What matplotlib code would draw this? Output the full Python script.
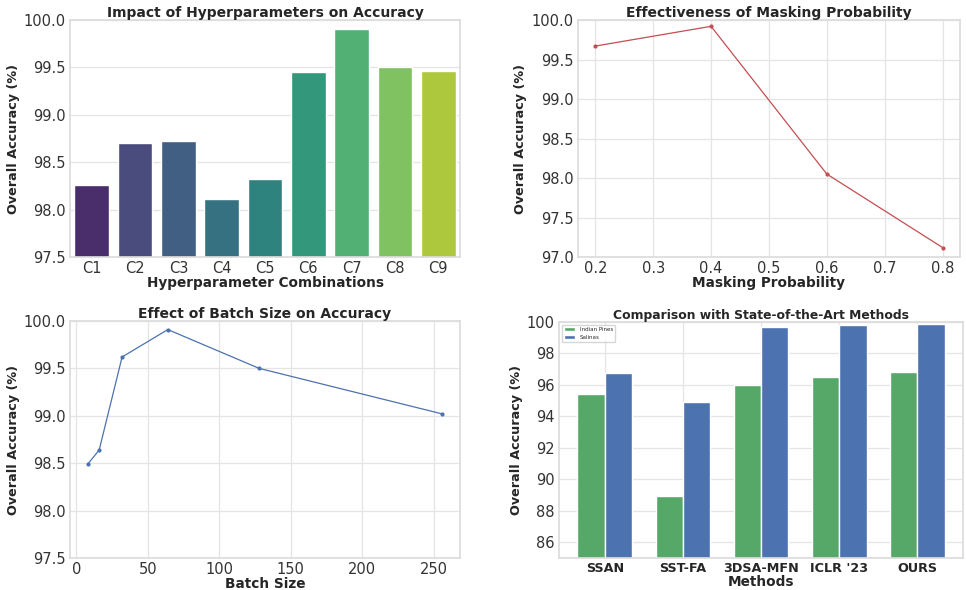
import matplotlib
matplotlib.use("Agg")
import matplotlib.pyplot as plt
import seaborn as sns
import numpy as np

# hyperparameter combinations
combos = ["C1", "C2", "C3", "C4", "C5", "C6", "C7", "C8", "C9"]
combo_acc = [98.26, 98.70, 98.72, 98.11, 98.32, 99.45, 99.91, 99.50, 99.46]

# masking probability
mask_prob = [0.2, 0.4, 0.6, 0.8]
mask_acc = [99.67, 99.92, 98.05, 97.12]

# batch size
batch_sizes = [8, 16, 32, 64, 128, 256]
batch_acc = [98.49, 98.64, 99.62, 99.91, 99.50, 99.02]

# comparison with other methods
methods = ["SSAN", "SST-FA", "3DSA-MFN", "ICLR '23", "OURS"]
indian_pines = [95.45, 88.97, 95.98, 96.53, 96.84]
salinas = [96.78, 94.91, 99.66, 99.81, 99.85]

sns.set_theme(style="whitegrid", rc={"grid.color": "#e4e4e4",
                                     "axes.edgecolor": "#dcdcdc",
                                     "grid.linewidth": 0.9})
plt.rcParams['font.family'] = ['DejaVu Sans']

fig = plt.figure(figsize=(9.66, 5.9), dpi=100)
ax1 = fig.add_axes([0.0725, 0.5644, 0.4037, 0.4017])
ax2 = fig.add_axes([0.5983, 0.5644, 0.3954, 0.4017])
ax3 = fig.add_axes([0.0725, 0.0542, 0.4037, 0.4017])
ax4 = fig.add_axes([0.5787, 0.0542, 0.4182, 0.4000])

tick_fs = 10.5
title_fs = 10
xlabel_fs = 9.8
ylabel_fs = 9.2
txt = "#262626"

def label_axes(ax, title, xlabel, tfs=title_fs):
    ax.set_title(title, fontsize=tfs, fontweight="bold", pad=2.5, color=txt)
    ax.set_xlabel(xlabel, fontsize=xlabel_fs, fontweight="bold",
                  labelpad=0, color=txt)
    ax.set_ylabel("Overall Accuracy (%)", fontsize=ylabel_fs,
                  fontweight="bold", labelpad=3, color=txt)

# Panel 1: hyperparameters
sns.barplot(x=combos, y=combo_acc, hue=combos, palette="viridis",
            legend=False, ax=ax1)
ax1.set_ylim(97.5, 100.0)
ax1.set_yticks(np.arange(97.5, 100.01, 0.5))
label_axes(ax1, "Impact of Hyperparameters on Accuracy",
           "Hyperparameter Combinations")

# Panel 2: masking probability
ax2.plot(mask_prob, mask_acc, marker="o", ms=2, lw=0.9, color="#C44E52")
ax2.set_ylim(97.0, 100.0)
ax2.set_xticks(np.arange(0.2, 0.81, 0.1))
label_axes(ax2, "Effectiveness of Masking Probability", "Masking Probability")

# Panel 3: batch size
ax3.plot(batch_sizes, batch_acc, marker="o", ms=2, lw=0.9, color="#4C72B0")
ax3.set_ylim(97.5, 100.0)
ax3.set_yticks(np.arange(97.5, 100.01, 0.5))
label_axes(ax3, "Effect of Batch Size on Accuracy", "Batch Size")

# Panel 4: comparison
x = np.arange(len(methods))
w = 0.35
ax4.bar(x - w / 2, indian_pines, w, label="Indian Pines", color="#55A868")
ax4.bar(x + w / 2, salinas, w, label="Salinas", color="#4C72B0")
ax4.set_xticks(x)
ax4.set_xticklabels(methods, fontweight="bold")
ax4.set_ylim(85, 100)
ax4.set_yticks(np.arange(86, 100.1, 2))
label_axes(ax4, "Comparison with State-of-the-Art Methods", "Methods", tfs=8.9)
ax4.legend(loc="upper left", fontsize=4)

for ax in (ax1, ax2, ax3, ax4):
    ax.tick_params(labelsize=tick_fs, length=0, pad=3, labelcolor="#333333")
ax4.tick_params(axis="x", labelsize=9.2, labelcolor=txt)

fig.savefig("out.png", dpi=100)
